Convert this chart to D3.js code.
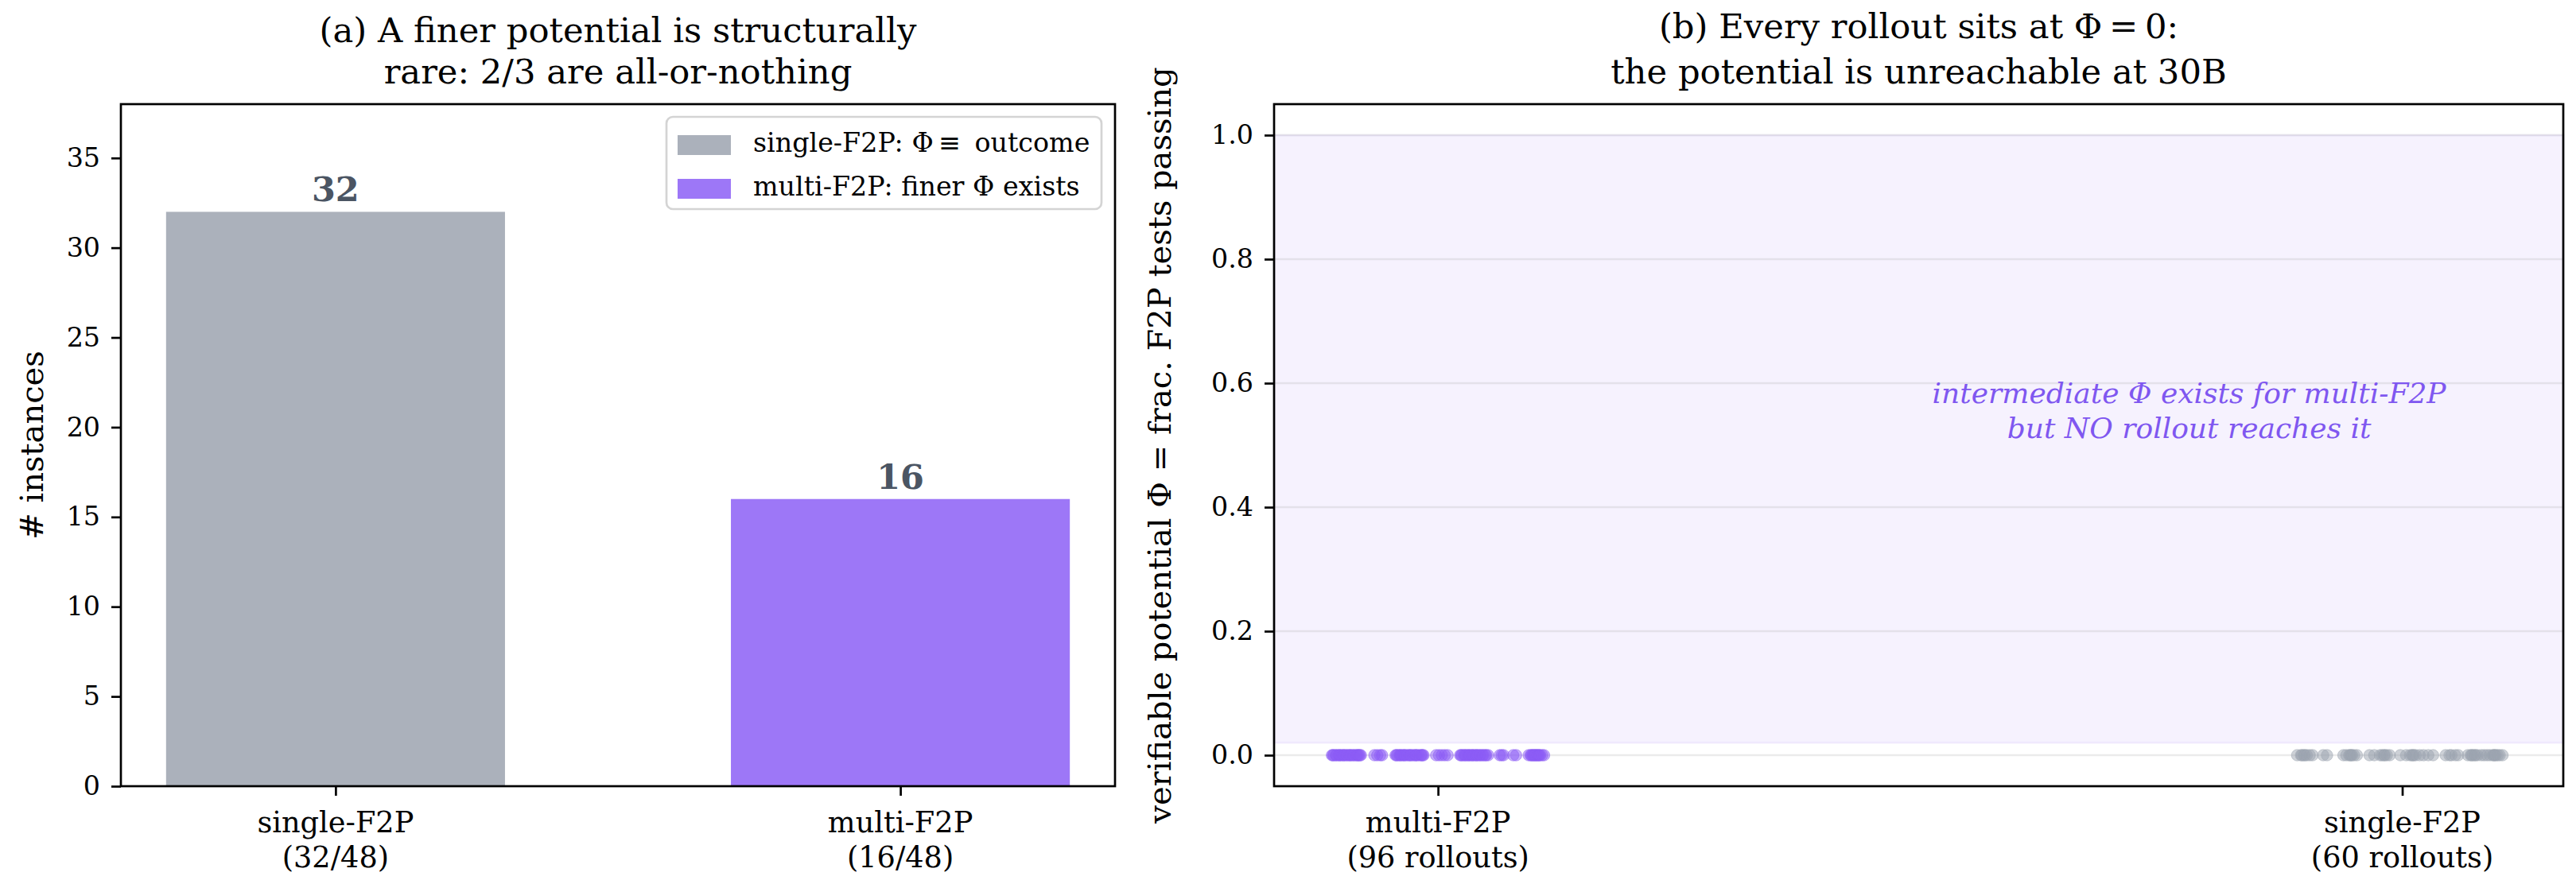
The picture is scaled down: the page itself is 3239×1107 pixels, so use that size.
<!DOCTYPE html>
<meta charset="utf-8">
<head>
    <script src="https://d3js.org/d3.v7.min.js"></script>
    <style>
    body { margin: 0; background: #fff; }
    text { font-family: "DejaVu Serif", serif; }
    </style>
</head>
<body>
<script>
// ---- data ----
var barCategories = ["single-F2P", "multi-F2P"];
var barSubLabels = ["(32/48)", "(16/48)"];
var barCounts = [32, 16];
var barColors = ["#abb1bb", "#9d77f7"];
var legendLabels = ["single-F2P: \u03a6\u2009\u2261\u2009 outcome", "multi-F2P: finer \u03a6 exists"];
var leftYTicks = [0, 5, 10, 15, 20, 25, 30, 35];

var dotGroups = ["multi-F2P", "single-F2P"];
var dotSubLabels = ["(96 rollouts)", "(60 rollouts)"];
var dotColors = ["#8b5cf6", "#9ca3af"];
var rightYTicks = [0.0, 0.2, 0.4, 0.6, 0.8, 1.0];
// every rollout has potential 0; only the horizontal jitter differs
var multiPhi = 0, singlePhi = 0;
var multiJitter = [
    -0.110, -0.109, -0.108, -0.106, -0.105, -0.103, -0.102, -0.101, -0.099, -0.098, -0.097, -0.095,
    -0.094, -0.092, -0.091, -0.090, -0.088, -0.087, -0.085, -0.084, -0.083, -0.082, -0.081, -0.080,
    -0.066, -0.063, -0.060, -0.058,
    -0.044, -0.043, -0.042, -0.040, -0.039, -0.038, -0.036, -0.035, -0.034, -0.032, -0.030, -0.029,
    -0.028, -0.026, -0.024, -0.023, -0.022, -0.020, -0.018, -0.017, -0.016, -0.015,
    -0.002, 0.001, 0.004, 0.007, 0.010,
    0.023, 0.024, 0.025, 0.027, 0.028, 0.029, 0.031, 0.032, 0.033, 0.035, 0.036, 0.037,
    0.039, 0.040, 0.041, 0.043, 0.044, 0.046, 0.047, 0.049, 0.050, 0.052,
    0.064, 0.066, 0.068, 0.078, 0.081,
    0.094, 0.096, 0.097, 0.098, 0.099, 0.100, 0.101, 0.102, 0.103, 0.104, 0.105, 0.106, 0.108, 0.110
];
var singleJitter = [
    -0.109, -0.105, -0.104, -0.102, -0.101, -0.099, -0.096, -0.093, -0.082, -0.078,
    -0.061, -0.058, -0.055, -0.054, -0.053, -0.052, -0.050, -0.047,
    -0.034, -0.029, -0.023, -0.021, -0.019, -0.018, -0.016, -0.013,
    -0.002, 0.004, 0.008, 0.010, 0.011, 0.012, 0.014, 0.018, 0.022, 0.027, 0.032,
    0.045, 0.049, 0.051, 0.055, 0.058,
    0.068, 0.071, 0.072, 0.073, 0.075, 0.076, 0.078, 0.082, 0.085, 0.088, 0.091, 0.094,
    0.095, 0.096, 0.097, 0.099, 0.101, 0.104
];

// ---- layout ----
var W = 3239, H = 1107;
var axTop = 131, axBottom = 989;
var L = { left: 152, right: 1402 };
var R = { left: 1602, right: 3223 };
var spineW = 2.7, tickLen = 12;

var svg = d3.select("body").append("svg")
    .attr("width", W)
    .attr("height", H);
svg.append("rect").attr("width", W).attr("height", H).attr("fill", "#fff");

/*** panel (a): bar chart ***/
var xa = d3.scaleLinear().domain([-0.38, 1.38]).range([L.left, L.right]);
var ya = d3.scaleLinear().domain([0, 38]).range([axBottom, axTop]);
var ga = svg.append("g");

ga.selectAll(".bar")
    .data(barCounts)
    .enter().append("rect")
    .attr("x", function(d, i) { return xa(i - 0.3); })
    .attr("width", xa(0.6) - xa(0))
    .attr("y", function(d) { return ya(d); })
    .attr("height", function(d) { return ya(0) - ya(d); })
    .attr("fill", function(d, i) { return barColors[i]; });

// value labels on top of the bars
ga.selectAll(".val")
    .data(barCounts)
    .enter().append("text")
    .attr("x", function(d, i) { return xa(i); })
    .attr("y", function(d) { return ya(d) - 13; })
    .attr("text-anchor", "middle")
    .style("font-size", "43px")
    .style("font-weight", "bold")
    .style("fill", "#4b5563")
    .text(function(d) { return d; });

// y axis
ga.append("g")
    .attr("transform", "translate(" + L.left + ",0)")
    .call(d3.axisLeft(ya).tickValues(leftYTicks).tickSize(tickLen).tickPadding(14));
// x axis
ga.append("g")
    .attr("transform", "translate(0," + axBottom + ")")
    .call(d3.axisBottom(xa).tickValues([0, 1]).tickSize(tickLen).tickFormat(""));
ga.selectAll(".xlab")
    .data(barCategories)
    .enter().append("text")
    .attr("text-anchor", "middle")
    .attr("y", 1047)
    .style("font-size", "36.7px")
    .each(function(d, i) {
        d3.select(this).append("tspan").attr("x", xa(i)).text(d);
        d3.select(this).append("tspan").attr("x", xa(i)).attr("dy", 44).text(barSubLabels[i]);
    });

// legend
var lg = ga.append("g");
lg.append("rect")
    .attr("x", 838).attr("y", 147).attr("width", 547).attr("height", 116)
    .attr("rx", 8).attr("fill", "#fff").attr("fill-opacity", 0.8)
    .attr("stroke", "#d4d4d4").attr("stroke-width", 2.7);
legendLabels.forEach(function(t, i) {
    lg.append("rect")
        .attr("x", 852).attr("y", 170 + i * 55).attr("width", 67).attr("height", 25)
        .attr("fill", barColors[i]);
    lg.append("text")
        .attr("x", 947).attr("y", 191 + i * 55)
        .style("font-size", "33.3px")
        .text(t);
});

// y label & title
ga.append("text")
    .attr("transform", "translate(54," + (axTop + axBottom) / 2 + ") rotate(-90)")
    .attr("text-anchor", "middle")
    .style("font-size", "40px")
    .text("# instances");
ga.append("text")
    .attr("text-anchor", "middle")
    .style("font-size", "43.3px")
    .each(function() {
        var cx = (L.left + L.right) / 2;
        d3.select(this).append("tspan").attr("x", cx).attr("y", 53).text("(a) A finer potential is structurally");
        d3.select(this).append("tspan").attr("x", cx).attr("y", 105).text("rare: 2/3 are all-or-nothing");
    });

/*** panel (b): strip plot ***/
var xb = d3.scaleLinear().domain([-0.17, 1.167]).range([R.left, R.right]);
var yb = d3.scaleLinear().domain([-0.05, 1.05]).range([axBottom, axTop]);
var gb = svg.append("g");

// shaded band for intermediate potential
gb.append("rect")
    .attr("x", R.left).attr("width", R.right - R.left)
    .attr("y", yb(1.0)).attr("height", yb(0.02) - yb(1.0))
    .attr("fill", "#8b5cf6").attr("fill-opacity", 0.08)
    .attr("stroke", "#8b5cf6").attr("stroke-opacity", 0.08).attr("stroke-width", 2.7);

// grid
gb.selectAll(".grid")
    .data(rightYTicks)
    .enter().append("line")
    .attr("x1", R.left).attr("x2", R.right)
    .attr("y1", function(d) { return yb(d); })
    .attr("y2", function(d) { return yb(d); })
    .attr("stroke", "#b0b0b0").attr("stroke-opacity", 0.25).attr("stroke-width", 2.7);

// rollout dots
var dotData = multiJitter.map(function(j) { return { g: 0, x: j, y: multiPhi }; })
    .concat(singleJitter.map(function(j) { return { g: 1, x: 1 + j, y: singlePhi }; }));
gb.selectAll(".dot")
    .data(dotData)
    .enter().append("circle")
    .attr("cx", function(d) { return xb(d.x); })
    .attr("cy", function(d) { return yb(d.y); })
    .attr("r", 7.2)
    .attr("fill", function(d) { return dotColors[d.g]; })
    .attr("fill-opacity", 0.5)
    .attr("stroke", function(d) { return dotColors[d.g]; })
    .attr("stroke-opacity", 0.5)
    .attr("stroke-width", 1);

// annotation
gb.append("text")
    .attr("text-anchor", "middle")
    .style("font-size", "36px")
    .style("font-style", "italic")
    .style("fill", "#7f57f0")
    .each(function() {
        var cx = xb(0.779), cy = yb(0.555);
        d3.select(this).append("tspan").attr("x", cx).attr("y", cy - 10).text("intermediate \u03a6 exists for multi-F2P");
        d3.select(this).append("tspan").attr("x", cx).attr("y", cy + 34).text("but NO rollout reaches it");
    });

// axes
gb.append("g")
    .attr("transform", "translate(" + R.left + ",0)")
    .call(d3.axisLeft(yb).tickValues(rightYTicks).tickFormat(d3.format(".1f")).tickSize(tickLen).tickPadding(14));
gb.append("g")
    .attr("transform", "translate(0," + axBottom + ")")
    .call(d3.axisBottom(xb).tickValues([0, 1]).tickSize(tickLen).tickFormat(""));
gb.selectAll(".xlab")
    .data(dotGroups)
    .enter().append("text")
    .attr("text-anchor", "middle")
    .attr("y", 1047)
    .style("font-size", "36.7px")
    .each(function(d, i) {
        d3.select(this).append("tspan").attr("x", xb(i)).text(d);
        d3.select(this).append("tspan").attr("x", xb(i)).attr("dy", 44).text(dotSubLabels[i]);
    });

gb.append("text")
    .attr("transform", "translate(1472," + (axTop + axBottom) / 2 + ") rotate(-90)")
    .attr("text-anchor", "middle")
    .style("font-size", "40px")
    .text("verifiable potential \u03a6 = frac. F2P tests passing");
gb.append("text")
    .attr("text-anchor", "middle")
    .style("font-size", "43.3px")
    .each(function() {
        var cx = (R.left + R.right) / 2;
        d3.select(this).append("tspan").attr("x", cx).attr("y", 48).text("(b) Every rollout sits at \u03a6\u2009=\u20090:");
        d3.select(this).append("tspan").attr("x", cx).attr("y", 105).text("the potential is unreachable at 30B");
    });

// spines on top, axis styling
[L, R].forEach(function(p) {
    svg.append("rect")
        .attr("x", p.left).attr("y", axTop)
        .attr("width", p.right - p.left).attr("height", axBottom - axTop)
        .attr("fill", "none").attr("stroke", "#000").attr("stroke-width", spineW);
});
svg.selectAll(".domain").remove();
svg.selectAll(".tick line").attr("stroke", "#000").attr("stroke-width", spineW);
svg.selectAll(".tick text")
    .style("font-family", "DejaVu Serif")
    .style("font-size", "33.3px")
    .style("fill", "#000");
</script>
</body>
</html>
